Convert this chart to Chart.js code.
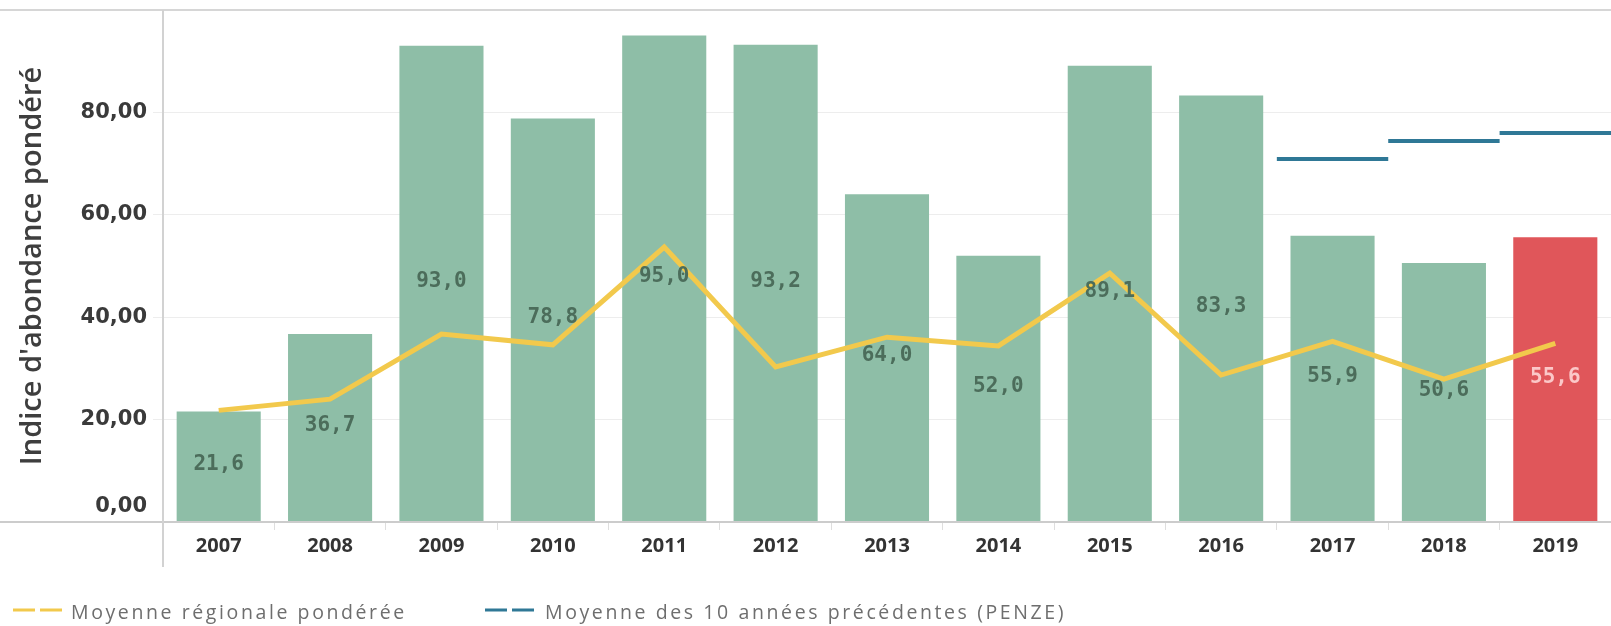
<!DOCTYPE html>
<html>
<head>
<meta charset="utf-8">
<script src="https://cdn.jsdelivr.net/npm/chart.js@4.4.1/dist/chart.umd.min.js"></script>
<style>
  html, body { margin: 0; padding: 0; background: #ffffff; }
  #wrap { width: 1611px; height: 626px; position: relative; }
</style>
</head>
<body>
<div id="wrap"><canvas id="c" width="1611" height="626"></canvas></div>
<script>
// ---------- data ----------
const years = ['2007', '2008', '2009', '2010', '2011', '2012', '2013', '2014', '2015', '2016', '2017', '2018', '2019'];
const abundanceIndex = [21.6, 36.7, 93.0, 78.8, 95.0, 93.2, 64.0, 52.0, 89.1, 83.3, 55.9, 50.6, 55.6];
const regionalMean = [21.8, 24.0, 36.7, 34.6, 53.7, 30.3, 36.1, 34.4, 48.6, 28.7, 35.3, 27.9, 34.9];
const tenYearMean = [null, null, null, null, null, null, null, null, null, null, 70.9, 74.4, 76.0];
const yTickValues = [0, 20, 40, 60, 80];
const legendLabels = ['Moyenne régionale pondérée', 'Moyenne des 10 années précédentes (PENZE)'];
const yAxisTitle = "Indice d'abondance pondéré";

// ---------- styles ----------
const GREEN = '#8ebea7';
const RED = '#e0565a';
const YELLOW = '#f2c94c';
const BLUE = '#2f7896';
const barColors = years.map((y, i) => (i === years.length - 1 ? RED : GREEN));
const labelColors = years.map((y, i) => (i === years.length - 1 ? '#fbc8c8' : '#4c6d5b'));

const fmtComma = (v, d) => v.toFixed(d).replace('.', ',');

const barLabelsPlugin = {
  id: 'barLabels',
  afterDatasetsDraw(chart) {
    const ctx = chart.ctx;
    const idx = chart.data.datasets.findIndex(d => d.type === 'bar');
    const meta = chart.getDatasetMeta(idx);
    ctx.save();
    ctx.font = 'bold 21px "DejaVu Sans Mono"';
    ctx.textAlign = 'center';
    ctx.textBaseline = 'middle';
    meta.data.forEach((bar, i) => {
      const p = bar.getProps(['x', 'y', 'base'], true);
      ctx.fillStyle = labelColors[i];
      ctx.fillText(fmtComma(abundanceIndex[i], 1), p.x, (p.y + p.base) / 2 - 2);
    });
    ctx.restore();
  }
};

const framePlugin = {
  id: 'frame',
  afterDraw(chart) {
    const ctx = chart.ctx;
    const a = chart.chartArea;
    const W = chart.width;
    ctx.save();
    ctx.strokeStyle = '#d6d6d6';
    ctx.lineWidth = 2;
    ctx.beginPath();
    ctx.moveTo(0, a.top); ctx.lineTo(W, a.top);
    ctx.stroke();
    ctx.strokeStyle = '#cccccc';
    ctx.beginPath();
    ctx.moveTo(0, a.bottom); ctx.lineTo(W, a.bottom);
    ctx.stroke();
    ctx.strokeStyle = '#d2d2d2';
    ctx.beginPath();
    ctx.moveTo(a.left, a.top); ctx.lineTo(a.left, a.bottom + 45);
    ctx.stroke();

    // legend
    const items = [
      { color: YELLOW, x0: 13, text: legendLabels[0], tx: 71 },
      { color: BLUE, x0: 485, text: legendLabels[1], tx: 545 }
    ];
    const ly = 610;
    ctx.lineWidth = 3;
    items.forEach(it => {
      ctx.strokeStyle = it.color;
      ctx.beginPath();
      ctx.moveTo(it.x0, ly); ctx.lineTo(it.x0 + 22, ly);
      ctx.moveTo(it.x0 + 27, ly); ctx.lineTo(it.x0 + 49, ly);
      ctx.stroke();
      ctx.fillStyle = '#6e6e6e';
      ctx.font = '19.5px "Open Sans"';
      ctx.letterSpacing = '2.6px';
      ctx.textAlign = 'left';
      ctx.textBaseline = 'alphabetic';
      ctx.fillText(it.text, it.tx, 618.5);
    });
    ctx.restore();
  }
};

function build() {
  new Chart(document.getElementById('c'), {
    data: {
      labels: years,
      datasets: [
        {
          type: 'line',
          label: legendLabels[1],
          data: tenYearMean,
          showLine: false,
          pointStyle: 'line',
          pointRadius: 55.7,
          pointBorderWidth: 4,
          pointBorderColor: BLUE,
          borderColor: BLUE,
          clip: false,
          order: 0
        },
        {
          type: 'line',
          label: legendLabels[0],
          data: regionalMean,
          borderColor: YELLOW,
          borderWidth: 5,
          pointRadius: 0,
          tension: 0,
          clip: false,
          order: 1
        },
        {
          type: 'bar',
          label: yAxisTitle,
          data: abundanceIndex,
          backgroundColor: barColors,
          categoryPercentage: 1,
          barPercentage: 0.755,
          order: 2
        }
      ]
    },
    options: {
      responsive: false,
      devicePixelRatio: 1,
      animation: false,
      events: [],
      layout: { autoPadding: false, padding: { top: 10, left: 0, right: 0, bottom: 0 } },
      plugins: {
        legend: { display: false },
        tooltip: { enabled: false }
      },
      scales: {
        x: {
          type: 'category',
          offset: true,
          border: { display: false },
          grid: {
            display: true,
            offset: true,
            drawOnChartArea: false,
            drawTicks: true,
            tickLength: 8,
            color: '#dedede'
          },
          ticks: {
            font: { family: 'Open Sans', weight: 'bold', size: 20 },
            color: '#333333',
            padding: 4,
            maxRotation: 0,
            autoSkip: false
          },
          afterFit(s) { s.height = 104; s.paddingLeft = 0; s.paddingRight = 0; }
        },
        y: {
          min: 0,
          max: 100,
          afterBuildTicks(s) { s.ticks = yTickValues.map(v => ({ value: v })); },
          border: { display: false },
          grid: { color: '#ededed', lineWidth: 1, drawTicks: true, tickLength: 10 },
          ticks: {
            callback: v => (v === 0 ? [fmtComma(v, 2), ''] : fmtComma(v, 2)),
            font: { family: 'DejaVu Sans', weight: 'bold', size: 21, lineHeight: 1.5 },
            color: '#3a3a3a',
            padding: 6
          },
          title: {
            display: true,
            text: yAxisTitle,
            font: { family: 'Open Sans', size: 29, weight: '600' },
            color: '#3e3e3e',
            padding: { top: 15, bottom: 0 }
          },
          afterFit(s) { s.width = 163; s.paddingTop = 0; s.paddingBottom = 0; }
        }
      }
    },
    plugins: [barLabelsPlugin, framePlugin]
  });
}

Promise.all([
  document.fonts.load('bold 21px "DejaVu Sans Mono"'),
  document.fonts.load('bold 21px "DejaVu Sans"'),
  document.fonts.load('bold 20px "Open Sans"'),
  document.fonts.load('600 29px "Open Sans"'),
  document.fonts.load('18px "Open Sans"')
]).then(build, build);
</script>
</body>
</html>
